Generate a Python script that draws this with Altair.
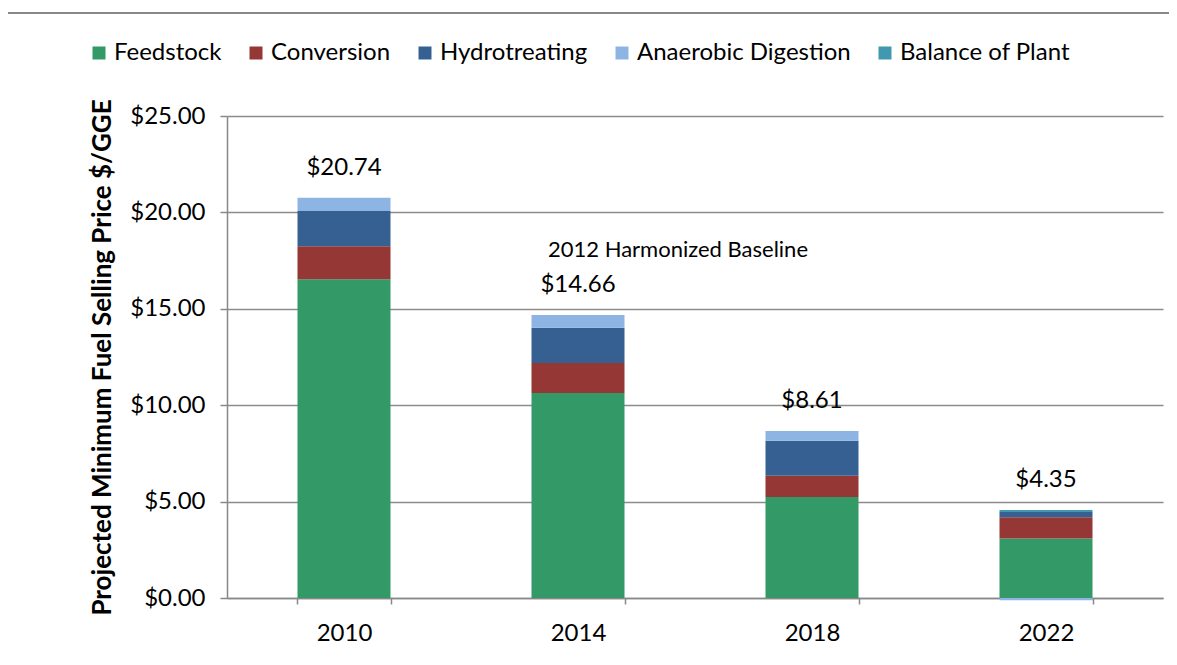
import altair as alt
import pandas as pd

years = ["2010", "2014", "2018", "2022"]
components = ["Feedstock", "Conversion", "Hydrotreating", "Anaerobic Digestion", "Balance of Plant"]
colors = ["#339966", "#953735", "#376092", "#8EB4E3", "#4198AF"]

feedstock = [16.53, 10.63, 5.24, 3.08]
conversion = [1.71, 1.56, 1.10, 1.11]
hydrotreating = [1.83, 1.83, 1.82, 0.27]
anaerobic = [0.69, 0.66, 0.50, -0.12]
balance = [0.0, 0.0, 0.0, 0.10]
totals_text = ["$20.74", "$14.66", "$8.61", "$4.35"]

series = [feedstock, conversion, hydrotreating, anaerobic, balance]
rows = []
for ci, (comp, vals) in enumerate(zip(components, series)):
    for yi, yr in enumerate(years):
        rows.append({"Year": yr, "Component": comp, "Value": vals[yi], "order": ci})
df = pd.DataFrame(rows)

tops = []
for yi, yr in enumerate(years):
    tops.append(sum(max(s[yi], 0) for s in series))
lab = pd.DataFrame({"Year": years, "top": tops, "label": totals_text})
ann = pd.DataFrame({"Year": ["2014"], "v": [18.05], "t": ["2012 Harmonized Baseline"]})

FONT = "Lato"
FS = 24

x_enc = alt.X("Year:N", sort=years, title=None,
              scale=alt.Scale(paddingInner=0.6, paddingOuter=0.3),
              axis=alt.Axis(labelAngle=0, labelFontSize=FS, labelColor="black",
                            domainColor="#888888", domainWidth=1.5,
                            tickColor="#888888", tickWidth=1.5, tickSize=6,
                            tickBand="extent", labelPadding=17, grid=False))

bars = alt.Chart(df).mark_bar(size=93).encode(
    x=x_enc,
    y=alt.Y("sum(Value):Q", stack="zero",
            scale=alt.Scale(domain=[0, 25], nice=False),
            title="Projected Minimum Fuel Selling Price $/GGE",
            axis=alt.Axis(values=[0, 5, 10, 15, 20, 25], format="$,.2f",
                          labelFontSize=FS, labelColor="black", labelPadding=15,
                          titleFontSize=26, titleFontWeight="bold", titleColor="black",
                          titlePadding=14,
                          gridColor="#8c8c8c", gridWidth=1.5,
                          domainColor="#888888", domainWidth=1.5,
                          tickColor="#888888", tickWidth=1.5, tickSize=7)),
    color=alt.Color("Component:N", sort=components,
                    scale=alt.Scale(domain=components, range=colors),
                    legend=alt.Legend(title=None, orient="none", direction="horizontal",
                                      legendX=-140, legendY=-75,
                                      symbolType="square", symbolSize=169,
                                      symbolStrokeWidth=0,
                                      labelFontSize=FS, labelColor="black",
                                      labelOffset=3, columnPadding=22,
                                      labelLimit=0, columns=5)),
    order=alt.Order("order:Q"),
)

labels = alt.Chart(lab).mark_text(fontSize=FS, dy=-30, color="black", font=FONT).encode(
    x=alt.X("Year:N", sort=years), y=alt.Y("top:Q"), text="label:N")

annot = alt.Chart(ann).mark_text(fontSize=22, dx=100, color="black", font=FONT).encode(
    x=alt.X("Year:N", sort=years), y=alt.Y("v:Q"), text="t:N")

border = alt.Chart(pd.DataFrame({"a": [0]})).mark_rule(color="#888888", strokeWidth=2, clip=False).encode(
    x=alt.value(-220), x2=alt.value(960), y=alt.value(-103))

chart = alt.layer(bars, labels, annot, border).properties(
    width=936, height=482,
    padding={"left": 219, "top": 108, "right": 6, "bottom": 50},
    autosize=alt.AutoSizeParams(type="none"),
).configure(font=FONT).configure_view(stroke=None)

chart.save("out.html", embed_options={"renderer": "svg", "actions": False})
